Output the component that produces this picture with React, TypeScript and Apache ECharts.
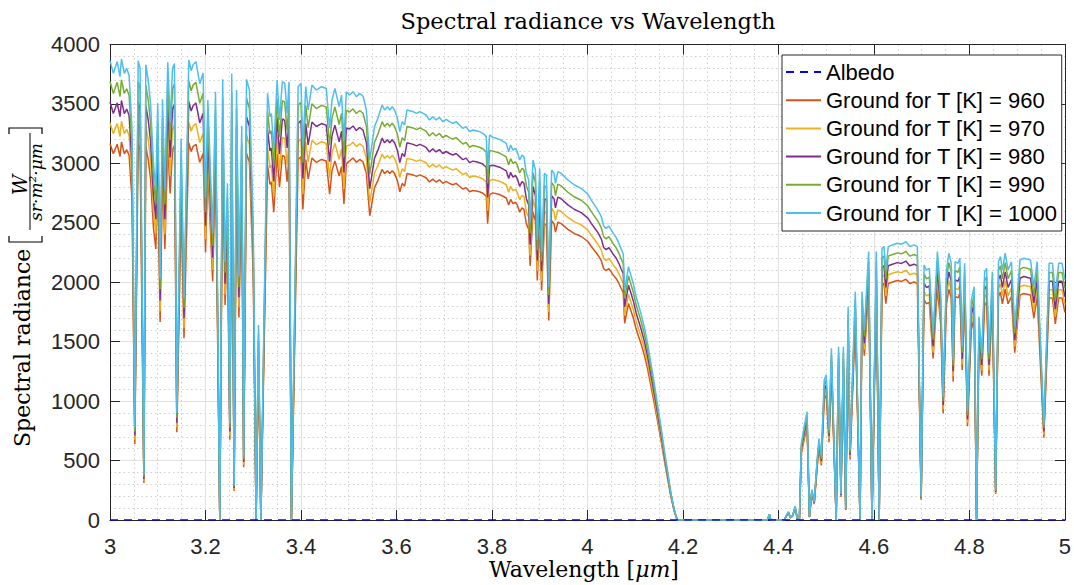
import React, { useEffect, useRef } from 'react';
import * as echarts from 'echarts';

// Wavelength samples [µm] (shared by all ground series)
const wavelengths = [
  3.000, 3.007, 3.015, 3.021, 3.024, 3.030, 3.035, 3.040, 3.046, 3.052,
  3.059, 3.063, 3.071, 3.075, 3.080, 3.085, 3.091, 3.096, 3.100, 3.105,
  3.110, 3.115, 3.121, 3.126, 3.131, 3.135, 3.140, 3.149, 3.155, 3.165,
  3.170, 3.174, 3.180, 3.188, 3.195, 3.200, 3.205, 3.215, 3.221, 3.230,
  3.236, 3.241, 3.246, 3.251, 3.255, 3.260, 3.265, 3.270, 3.276, 3.280,
  3.286, 3.292, 3.300, 3.306, 3.311, 3.316, 3.330, 3.335, 3.338, 3.343,
  3.350, 3.355, 3.361, 3.366, 3.371, 3.375, 3.380, 3.394, 3.400, 3.404,
  3.410, 3.415, 3.423, 3.432, 3.443, 3.453, 3.460, 3.465, 3.471, 3.480,
  3.485, 3.490, 3.495, 3.502, 3.509, 3.516, 3.523, 3.530, 3.537, 3.544,
  3.549, 3.554, 3.561, 3.570, 3.575, 3.581, 3.586, 3.591, 3.596, 3.602,
  3.607, 3.612, 3.617, 3.622, 3.635, 3.642, 3.649, 3.656, 3.662, 3.669,
  3.676, 3.683, 3.690, 3.697, 3.704, 3.711, 3.718, 3.725, 3.732, 3.739,
  3.746, 3.753, 3.760, 3.767, 3.774, 3.781, 3.788, 3.791, 3.795, 3.802,
  3.816, 3.830, 3.835, 3.839, 3.844, 3.849, 3.853, 3.858, 3.863, 3.867,
  3.872, 3.877, 3.880, 3.886, 3.891, 3.895, 3.900, 3.904, 3.910, 3.914,
  3.919, 3.925, 3.930, 3.933, 3.938, 3.945, 3.959, 3.973, 3.987, 4.001,
  4.008, 4.015, 4.022, 4.029, 4.034, 4.039, 4.045, 4.050, 4.054, 4.060,
  4.066, 4.070, 4.075, 4.078, 4.086, 4.091, 4.096, 4.102, 4.107, 4.112,
  4.119, 4.126, 4.133, 4.140, 4.147, 4.154, 4.161, 4.168, 4.175, 4.182,
  4.188, 4.300, 4.377, 4.381, 4.384, 4.412, 4.421, 4.425, 4.430, 4.435,
  4.440, 4.444, 4.448, 4.454, 4.460, 4.465, 4.470, 4.475, 4.481, 4.485,
  4.490, 4.496, 4.500, 4.506, 4.511, 4.521, 4.526, 4.531, 4.536, 4.541,
  4.546, 4.550, 4.561, 4.571, 4.575, 4.580, 4.589, 4.596, 4.605, 4.611,
  4.617, 4.621, 4.625, 4.630, 4.639, 4.649, 4.658, 4.667, 4.675, 4.684,
  4.691, 4.699, 4.705, 4.710, 4.716, 4.724, 4.733, 4.740, 4.745, 4.752,
  4.757, 4.762, 4.766, 4.770, 4.776, 4.780, 4.785, 4.790, 4.796, 4.804,
  4.810, 4.815, 4.820, 4.826, 4.832, 4.836, 4.841, 4.848, 4.855, 4.861,
  4.865, 4.869, 4.875, 4.881, 4.888, 4.895, 4.906, 4.914, 4.928, 4.935,
  4.942, 4.956, 4.967, 4.974, 4.980, 4.987, 4.994, 5.000,
];

const radiance960 = [
  3168, 3081, 3161, 3058, 3180, 3081, 3115, 3067, 2706, 640,
  3168, 3116, 312, 3141, 3034, 2870, 2460, 2280, 2874, 1665,
  2903, 2280, 3157, 2747, 3116, 3149, 738, 2632, 1529, 3173,
  3100, 3141, 3161, 3009, 3083, 2251, 2939, 2006, 2998, 0,
  3084, 1808, 2356, 676, 3126, 245, 3009, 1703, 2757, 443,
  3084, 3009, 2053, 0, 1364, 0, 2986, 2823, 2845, 2589,
  3079, 2800, 3068, 3056, 2846, 3068, 0, 3033, 3056, 2612,
  3033, 2870, 3044, 3009, 3033, 3020, 2741, 2939, 3021, 2893,
  2974, 2659, 2998, 3021, 3045, 3009, 3033, 3012, 2914, 2559,
  2677, 2796, 2855, 2950, 2914, 2938, 2914, 2938, 2914, 2855,
  2761, 2832, 2808, 2914, 2903, 2891, 2903, 2891, 2879, 2843,
  2867, 2843, 2862, 2832, 2848, 2832, 2820, 2832, 2808, 2784,
  2796, 2761, 2772, 2767, 2761, 2749, 2725, 2493, 2737, 2752,
  2738, 2709, 2649, 2697, 2661, 2673, 2649, 2589, 2625, 2613,
  2493, 2445, 2138, 2589, 2517, 2014, 2529, 1930, 2493, 2481,
  1678, 2517, 2493, 2421, 2505, 2493, 2445, 2409, 2385, 2343,
  2301, 2265, 2229, 2181, 2114, 2097, 2114, 2085, 2061, 2032,
  1990, 1954, 1913, 1654, 1822, 1761, 1701, 1606, 1546, 1486,
  1390, 1271, 1126, 982, 827, 671, 503, 347, 192, 72,
  0, 0, 0, 43, 0, 0, 61, 17, 35, 101,
  0, 9, 557, 679, 788, 24, 222, 133, 436, 593,
  460, 1018, 1054, 655, 1249, 0, 1261, 194, 1261, 85,
  1552, 509, 1662, 0, 1662, 1383, 1953, 0, 1953, 0,
  1977, 1990, 1819, 1990, 2002, 2014, 2007, 2026, 1990, 2002,
  1990, 170, 1855, 1819, 1831, 1359, 1953, 1644, 898, 1819,
  1941, 1868, 1164, 1880, 1868, 1905, 1261, 1868, 789, 1600,
  1698, 0, 1480, 1213, 1807, 1831, 1213, 1807, 219, 1880,
  1917, 1819, 1941, 1819, 1880, 1407, 1892, 1905, 1892, 1698,
  1880, 692, 1868, 1868, 1650, 1868, 1868, 1746,
];

const radiance970 = [
  3342, 3250, 3335, 3226, 3354, 3250, 3286, 3235, 2855, 675,
  3342, 3287, 329, 3313, 3201, 3028, 2595, 2405, 3032, 1756,
  3062, 2405, 3330, 2898, 3287, 3322, 779, 2777, 1613, 3348,
  3270, 3313, 3335, 3175, 3252, 2362, 3084, 2105, 3145, 0,
  3236, 1897, 2472, 710, 3280, 257, 3158, 1787, 2893, 465,
  3236, 3158, 2155, 0, 1432, 0, 3133, 2962, 2986, 2717,
  3231, 2938, 3219, 3207, 2987, 3219, 0, 3182, 3207, 2741,
  3182, 3011, 3194, 3158, 3182, 3169, 2877, 3084, 3170, 3035,
  3121, 2790, 3145, 3153, 3178, 3141, 3165, 3144, 3042, 2671,
  2794, 2919, 2980, 3079, 3042, 3067, 3042, 3067, 3042, 2980,
  2881, 2956, 2931, 3042, 3030, 3017, 3030, 3017, 3005, 2968,
  2993, 2968, 2987, 2956, 2972, 2956, 2943, 2956, 2931, 2906,
  2919, 2881, 2894, 2889, 2881, 2869, 2844, 2602, 2857, 2865,
  2850, 2820, 2757, 2807, 2770, 2782, 2757, 2695, 2732, 2720,
  2595, 2545, 2225, 2695, 2620, 2096, 2633, 2009, 2595, 2583,
  1747, 2620, 2595, 2520, 2608, 2595, 2545, 2508, 2483, 2439,
  2395, 2358, 2320, 2270, 2201, 2183, 2201, 2171, 2146, 2116,
  2071, 2034, 1991, 1721, 1897, 1833, 1771, 1671, 1609, 1547,
  1447, 1323, 1172, 1023, 861, 699, 523, 361, 199, 75,
  0, 0, 0, 45, 0, 0, 63, 18, 36, 105,
  0, 9, 578, 704, 817, 25, 231, 138, 452, 615,
  477, 1056, 1093, 679, 1295, 0, 1308, 201, 1308, 88,
  1609, 528, 1723, 0, 1723, 1434, 2025, 0, 2025, 0,
  2051, 2063, 1886, 2063, 2076, 2088, 2081, 2101, 2063, 2076,
  2063, 177, 1924, 1886, 1899, 1409, 2025, 1704, 931, 1886,
  2013, 1937, 1207, 1949, 1937, 1975, 1308, 1937, 818, 1659,
  1761, 0, 1535, 1258, 1874, 1899, 1258, 1874, 227, 1949,
  1988, 1886, 2013, 1886, 1949, 1459, 1962, 1975, 1962, 1761,
  1949, 718, 1937, 1937, 1711, 1937, 1937, 1811,
];

const radiance980 = [
  3516, 3419, 3508, 3393, 3529, 3419, 3457, 3403, 3003, 710,
  3516, 3458, 346, 3485, 3367, 3185, 2730, 2530, 3190, 1847,
  3221, 2530, 3504, 3049, 3458, 3494, 819, 2921, 1697, 3522,
  3440, 3485, 3508, 3340, 3422, 2476, 3233, 2206, 3297, 0,
  3392, 1988, 2591, 744, 3438, 269, 3310, 1873, 3032, 488,
  3392, 3310, 2258, 0, 1501, 0, 3284, 3105, 3129, 2847,
  3386, 3079, 3374, 3361, 3130, 3374, 0, 3335, 3361, 2873,
  3335, 3156, 3348, 3310, 3335, 3321, 3015, 3233, 3322, 3181,
  3271, 2924, 3297, 3289, 3315, 3276, 3302, 3280, 3173, 2786,
  2915, 3044, 3109, 3212, 3173, 3199, 3173, 3199, 3173, 3109,
  3006, 3083, 3057, 3173, 3160, 3147, 3160, 3147, 3134, 3096,
  3122, 3096, 3116, 3083, 3100, 3083, 3070, 3083, 3057, 3031,
  3044, 3006, 3019, 3013, 3006, 2993, 2967, 2714, 2980, 2984,
  2968, 2937, 2872, 2924, 2885, 2898, 2872, 2807, 2846, 2833,
  2703, 2651, 2318, 2807, 2729, 2183, 2742, 2092, 2703, 2690,
  1820, 2729, 2703, 2625, 2716, 2703, 2651, 2612, 2586, 2540,
  2495, 2456, 2417, 2365, 2292, 2274, 2292, 2261, 2235, 2204,
  2157, 2118, 2074, 1793, 1975, 1910, 1845, 1741, 1676, 1611,
  1507, 1378, 1221, 1065, 896, 728, 545, 376, 208, 78,
  0, 0, 0, 47, 0, 0, 65, 19, 37, 109,
  0, 9, 599, 730, 847, 26, 239, 143, 469, 638,
  495, 1095, 1134, 704, 1343, 0, 1356, 208, 1356, 91,
  1668, 548, 1787, 0, 1787, 1487, 2100, 0, 2100, 0,
  2126, 2139, 1956, 2139, 2152, 2165, 2158, 2178, 2139, 2152,
  2139, 183, 1995, 1956, 1969, 1461, 2100, 1767, 965, 1956,
  2087, 2008, 1252, 2021, 2008, 2048, 1356, 2008, 848, 1721,
  1826, 0, 1591, 1304, 1943, 1969, 1304, 1943, 235, 2021,
  2061, 1956, 2087, 1956, 2021, 1513, 2034, 2048, 2034, 1826,
  2021, 744, 2008, 2008, 1774, 2008, 2008, 1878,
];

const radiance990 = [
  3690, 3588, 3682, 3561, 3703, 3588, 3628, 3572, 3152, 745,
  3690, 3629, 363, 3658, 3534, 3343, 2865, 2655, 3347, 1939,
  3381, 2655, 3677, 3199, 3629, 3667, 860, 3066, 1781, 3696,
  3610, 3658, 3682, 3505, 3591, 2590, 3381, 2307, 3448, 0,
  3548, 2080, 2710, 778, 3595, 281, 3461, 1959, 3171, 510,
  3548, 3461, 2362, 0, 1569, 0, 3435, 3247, 3273, 2978,
  3542, 3220, 3528, 3515, 3274, 3528, 0, 3488, 3515, 3005,
  3488, 3301, 3502, 3461, 3488, 3474, 3153, 3381, 3475, 3327,
  3421, 3059, 3448, 3432, 3459, 3419, 3445, 3422, 3311, 2907,
  3041, 3177, 3244, 3351, 3311, 3338, 3311, 3338, 3311, 3244,
  3136, 3217, 3190, 3311, 3298, 3284, 3298, 3284, 3271, 3230,
  3257, 3230, 3252, 3217, 3235, 3217, 3204, 3217, 3190, 3163,
  3177, 3136, 3150, 3144, 3136, 3123, 3096, 2832, 3109, 3103,
  3087, 3054, 2986, 3040, 3000, 3013, 2986, 2919, 2959, 2946,
  2811, 2757, 2410, 2919, 2838, 2270, 2852, 2176, 2811, 2798,
  1892, 2838, 2811, 2730, 2825, 2811, 2757, 2717, 2690, 2641,
  2594, 2554, 2513, 2459, 2384, 2365, 2384, 2351, 2324, 2291,
  2243, 2203, 2156, 1864, 2054, 1986, 1918, 1810, 1743, 1675,
  1567, 1432, 1270, 1108, 932, 757, 567, 391, 216, 81,
  0, 0, 0, 48, 0, 0, 68, 19, 39, 113,
  0, 10, 621, 758, 879, 27, 248, 149, 486, 662,
  513, 1136, 1176, 730, 1393, 0, 1407, 216, 1407, 95,
  1731, 568, 1854, 0, 1854, 1543, 2179, 0, 2179, 0,
  2206, 2220, 2029, 2220, 2233, 2247, 2239, 2260, 2220, 2233,
  2220, 190, 2070, 2029, 2043, 1516, 2179, 1834, 1002, 2029,
  2165, 2083, 1299, 2097, 2083, 2125, 1407, 2083, 880, 1785,
  1894, 0, 1651, 1353, 2016, 2043, 1353, 2016, 244, 2097,
  2138, 2029, 2165, 2029, 2097, 1570, 2110, 2125, 2110, 1894,
  2097, 772, 2083, 2083, 1840, 2083, 2083, 1948,
];

const radiance1000 = [
  3864, 3757, 3855, 3729, 3878, 3757, 3799, 3740, 3300, 780,
  3864, 3800, 380, 3830, 3700, 3500, 3000, 2780, 3505, 2030,
  3540, 2780, 3850, 3350, 3800, 3840, 900, 3210, 1865, 3870,
  3780, 3830, 3855, 3670, 3760, 2706, 3533, 2411, 3603, 0,
  3707, 2173, 2832, 813, 3757, 294, 3617, 2047, 3314, 533,
  3707, 3617, 2468, 0, 1640, 0, 3589, 3393, 3420, 3112,
  3701, 3365, 3687, 3673, 3421, 3687, 0, 3645, 3673, 3140,
  3645, 3449, 3659, 3617, 3645, 3630, 3295, 3533, 3631, 3477,
  3575, 3196, 3603, 3575, 3603, 3561, 3589, 3565, 3449, 3028,
  3168, 3309, 3379, 3491, 3449, 3477, 3449, 3477, 3449, 3379,
  3267, 3351, 3323, 3449, 3435, 3421, 3435, 3421, 3407, 3365,
  3393, 3365, 3387, 3351, 3370, 3351, 3337, 3351, 3323, 3295,
  3309, 3267, 3281, 3275, 3267, 3253, 3225, 2950, 3239, 3219,
  3202, 3168, 3098, 3154, 3112, 3126, 3098, 3028, 3070, 3056,
  2916, 2860, 2500, 3028, 2944, 2355, 2958, 2257, 2916, 2902,
  1963, 2944, 2916, 2832, 2930, 2916, 2860, 2818, 2790, 2740,
  2691, 2649, 2607, 2551, 2473, 2453, 2473, 2439, 2411, 2377,
  2327, 2285, 2237, 1934, 2131, 2060, 1990, 1878, 1808, 1738,
  1626, 1486, 1317, 1149, 967, 785, 588, 406, 224, 84,
  0, 0, 0, 50, 0, 0, 70, 20, 40, 117,
  0, 10, 644, 785, 911, 28, 257, 154, 504, 686,
  532, 1177, 1219, 757, 1444, 0, 1458, 224, 1458, 98,
  1794, 589, 1921, 0, 1921, 1599, 2258, 0, 2258, 0,
  2286, 2300, 2103, 2300, 2314, 2328, 2320, 2342, 2300, 2314,
  2300, 197, 2145, 2103, 2117, 1571, 2258, 1900, 1038, 2103,
  2244, 2159, 1346, 2173, 2159, 2202, 1458, 2159, 912, 1850,
  1963, 0, 1711, 1402, 2089, 2117, 1402, 2089, 253, 2173,
  2216, 2103, 2244, 2103, 2173, 1627, 2187, 2202, 2187, 1963,
  2173, 800, 2159, 2159, 1907, 2159, 2159, 2019,
];

// Albedo series (flat at zero)
const albedoWavelengths = [3, 5];
const albedoValues = [0, 0];

const seriesNames = [
  'Albedo',
  'Ground for T [K] = 960',
  'Ground for T [K] = 970',
  'Ground for T [K] = 980',
  'Ground for T [K] = 990',
  'Ground for T [K] = 1000',
];
const seriesColors = ['#0000FF', '#D95319', '#EDB120', '#7E2F8E', '#77AC30', '#4DBEEE'];
const groundValues = [radiance960, radiance970, radiance980, radiance990, radiance1000];

const axisColor = '#262626';
const sans = '"Liberation Sans", Arial, Helvetica, sans-serif';
const serif = '"DejaVu Serif", serif';

export default function App() {
  const ref = useRef<HTMLDivElement>(null);

  useEffect(() => {
    if (!ref.current) return;
    const chart = echarts.init(ref.current, undefined, { renderer: 'svg' });

    const toPairs = (xs: number[], ys: number[]) => xs.map((x, i) => [x, ys[i]]);

    const series: any[] = [
      {
        name: seriesNames[0],
        type: 'line',
        data: toPairs(albedoWavelengths, albedoValues),
        symbol: 'none',
        silent: true,
        lineStyle: { color: seriesColors[0], width: 1.5, type: [8, 6] },
        itemStyle: { color: seriesColors[0] },
        z: 3,
      },
      ...groundValues.map((vals, k) => ({
        name: seriesNames[k + 1],
        type: 'line',
        data: toPairs(wavelengths, vals),
        symbol: 'none',
        silent: true,
        lineStyle: { color: seriesColors[k + 1], width: 1.5 },
        itemStyle: { color: seriesColors[k + 1] },
        z: 2,
      })),
    ];

    const baseX = {
      type: 'value',
      min: 3,
      max: 5,
      interval: 0.2,
      axisLine: { show: true, onZero: false, lineStyle: { color: axisColor, width: 1 } },
      axisTick: { show: true, inside: true, length: 10, lineStyle: { color: axisColor, width: 1 } },
    };
    const baseY = {
      type: 'value',
      min: 0,
      max: 4000,
      interval: 500,
      axisLine: { show: true, onZero: false, lineStyle: { color: axisColor, width: 1 } },
      axisTick: { show: true, inside: true, length: 10, lineStyle: { color: axisColor, width: 1 } },
    };

    const option: any = {
      animation: false,
      backgroundColor: '#ffffff',
      grid: { left: 110, right: 8, top: 44.5, bottom: 65, containLabel: false },
      legend: {
        orient: 'vertical',
        left: 782,
        top: 55,
        padding: [6, 4, 7, 3],
        itemGap: 6.2,
        itemWidth: 35,
        itemHeight: 14,
        backgroundColor: '#ffffff',
        borderColor: axisColor,
        borderWidth: 1,
        borderRadius: 0,
        selectedMode: false,
        itemStyle: { opacity: 0 },
        textStyle: { fontFamily: sans, fontSize: 22, color: '#000000', lineHeight: 22 },
        data: seriesNames,
      },
      xAxis: [
        {
          ...baseX,
          position: 'bottom',
          axisLabel: {
            color: axisColor,
            fontFamily: sans,
            fontSize: 22,
            margin: 15,
            formatter: (v: number) => String(Math.round(v * 10) / 10),
          },
          splitLine: { show: true, lineStyle: { color: '#e2e2e2', width: 1 } },
          minorTick: { show: false, splitNumber: 4 },
          minorSplitLine: { show: true, lineStyle: { color: '#cfcfcf', width: 1, type: [1.5, 3] } },
        },
        {
          ...baseX,
          position: 'top',
          axisLabel: { show: false },
          splitLine: { show: false },
        },
      ],
      yAxis: [
        {
          ...baseY,
          position: 'left',
          axisLabel: {
            color: axisColor,
            fontFamily: sans,
            fontSize: 22,
            margin: 10,
            formatter: (v: number) => String(Math.round(v)),
          },
          splitLine: { show: true, lineStyle: { color: '#e2e2e2', width: 1 } },
          minorTick: { show: false, splitNumber: 5 },
          minorSplitLine: { show: true, lineStyle: { color: '#cfcfcf', width: 1, type: [1.5, 3] } },
        },
        {
          ...baseY,
          position: 'right',
          axisLabel: { show: false },
          splitLine: { show: false },
        },
      ],
      graphic: [
        {
          type: 'text',
          x: 588,
          y: 21,
          silent: true,
          style: {
            text: 'Spectral radiance vs Wavelength',
            fontFamily: serif,
            fontSize: 22.5,
            fill: '#000000',
            align: 'center',
            verticalAlign: 'middle',
          },
        },
        {
          type: 'text',
          x: 584,
          y: 569,
          silent: true,
          style: {
            text: '{a|Wavelength [}{b|μm}{a|]}',
            fontFamily: serif,
            fontSize: 22,
            fill: '#000000',
            align: 'center',
            verticalAlign: 'middle',
            rich: {
              a: { fontFamily: serif, fontSize: 22, fill: '#000000' },
              b: { fontFamily: serif, fontSize: 22, fontStyle: 'italic', fill: '#000000' },
            },
          },
        },
        {
          type: 'group',
          x: 29,
          y: 447,
          rotation: Math.PI / 2,
          silent: true,
          children: [
            {
              type: 'text',
              x: 0,
              y: -7,
              style: {
                text: 'Spectral radiance',
                fontFamily: serif,
                fontSize: 22,
                fill: '#000000',
                align: 'left',
                verticalAlign: 'middle',
              },
            },
            {
              type: 'polyline',
              shape: { points: [[211, -20], [205, -20], [205, 13], [211, 13]] },
              style: { stroke: '#000000', lineWidth: 1.2, fill: 'none' },
            },
            {
              type: 'text',
              x: 262,
              y: -9,
              style: {
                text: 'W',
                fontFamily: serif,
                fontSize: 20,
                fontStyle: 'italic',
                fill: '#000000',
                align: 'center',
                verticalAlign: 'middle',
              },
            },
            {
              type: 'line',
              shape: { x1: 217, y1: 1, x2: 314, y2: 1 },
              style: { stroke: '#000000', lineWidth: 1 },
            },
            {
              type: 'text',
              x: 265,
              y: 7,
              style: {
                text: 'sr·m²·μm',
                fontFamily: serif,
                fontSize: 17,
                fontStyle: 'italic',
                fill: '#000000',
                align: 'center',
                verticalAlign: 'middle',
              },
            },
            {
              type: 'polyline',
              shape: { points: [[313, -20], [319, -20], [319, 13], [313, 13]] },
              style: { stroke: '#000000', lineWidth: 1.2, fill: 'none' },
            },
          ],
        },
      ],
      series,
    };

    chart.setOption(option);
    return () => chart.dispose();
  }, []);

  return (
    <div
      ref={ref}
      style={{ position: 'absolute', left: 0, top: 0, width: 1074, height: 585, background: '#ffffff' }}
    />
  );
}
